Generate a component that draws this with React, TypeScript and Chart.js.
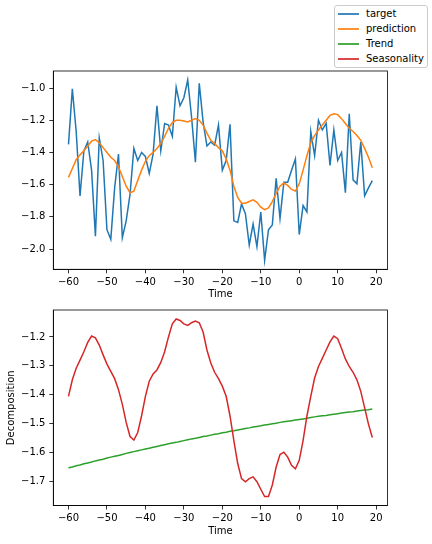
import { useEffect, useRef } from "react"
import { Chart, registerables } from "chart.js"

Chart.register(...registerables)
Chart.defaults.font.family = "'DejaVu Sans', sans-serif"
Chart.defaults.font.size = 10
Chart.defaults.color = "#000"

// time steps -60 .. 19
const time = Array.from({ length: 80 }, (_, i) => i - 60)

const target = [
  -1.35, -1.005, -1.27, -1.67, -1.39, -1.335, -1.51, -1.92, -1.31, -1.45,
  -1.88, -1.94, -1.62, -1.41, -1.93, -1.825, -1.66, -1.375, -1.45, -1.4,
  -1.425, -1.53, -1.41, -1.11, -1.39, -1.22, -1.23, -1.3, -0.995, -1.11,
  -1.06, -0.95, -1.18, -1.46, -0.97, -1.21, -1.36, -1.335, -1.355, -1.23,
  -1.51, -1.45, -1.225, -1.825, -1.835, -1.72, -1.78, -1.975, -1.845, -1.985,
  -1.77, -2.07, -1.88, -1.85, -1.56, -1.81, -1.585, -1.585, -1.51, -1.44,
  -1.91, -1.73, -1.77, -1.27, -1.42, -1.2, -1.26, -1.22, -1.48, -1.26,
  -1.45, -1.4, -1.65, -1.16, -1.57, -1.595, -1.335, -1.67, -1.62, -1.575,
]

const prediction = [
  -1.555, -1.5, -1.445, -1.415, -1.39, -1.36, -1.33, -1.32, -1.34, -1.37,
  -1.4, -1.43, -1.45, -1.49, -1.55, -1.61, -1.65, -1.64, -1.575, -1.51,
  -1.455, -1.42, -1.4, -1.375, -1.345, -1.3, -1.25, -1.215, -1.2, -1.2,
  -1.205, -1.21, -1.2, -1.19, -1.2, -1.23, -1.28, -1.325, -1.345, -1.37,
  -1.39, -1.44, -1.51, -1.61, -1.68, -1.715, -1.715, -1.705, -1.695, -1.71,
  -1.74, -1.755, -1.745, -1.705, -1.655, -1.61, -1.59, -1.605, -1.63, -1.64,
  -1.595, -1.51, -1.42, -1.34, -1.295, -1.26, -1.23, -1.2, -1.17, -1.16,
  -1.165, -1.19, -1.22, -1.25, -1.27, -1.295, -1.325, -1.375, -1.43, -1.495,
]

const trend = [
  -1.652, -1.649, -1.645, -1.642, -1.638, -1.635, -1.632, -1.628, -1.625, -1.622,
  -1.618, -1.615, -1.612, -1.609, -1.606, -1.602, -1.599, -1.596, -1.593, -1.59,
  -1.587, -1.584, -1.581, -1.578, -1.575, -1.572, -1.569, -1.566, -1.564, -1.561,
  -1.558, -1.555, -1.552, -1.55, -1.547, -1.544, -1.542, -1.539, -1.536, -1.534,
  -1.531, -1.529, -1.526, -1.524, -1.521, -1.519, -1.516, -1.514, -1.511, -1.509,
  -1.507, -1.504, -1.502, -1.5, -1.498, -1.495, -1.493, -1.491, -1.489, -1.487,
  -1.485, -1.483, -1.481, -1.478, -1.476, -1.474, -1.472, -1.471, -1.469, -1.467,
  -1.465, -1.463, -1.461, -1.459, -1.458, -1.456, -1.454, -1.452, -1.451, -1.449,
]

const seasonality = [
  -1.405, -1.348, -1.308, -1.28, -1.251, -1.219, -1.197, -1.203, -1.228, -1.262,
  -1.294, -1.319, -1.344, -1.382, -1.433, -1.495, -1.544, -1.556, -1.53, -1.473,
  -1.405, -1.353, -1.328, -1.314, -1.288, -1.251, -1.2, -1.155, -1.138, -1.143,
  -1.155, -1.16, -1.151, -1.145, -1.151, -1.183, -1.245, -1.29, -1.322, -1.344,
  -1.37, -1.405, -1.473, -1.558, -1.637, -1.689, -1.7, -1.689, -1.683, -1.7,
  -1.726, -1.751, -1.751, -1.711, -1.649, -1.606, -1.598, -1.615, -1.643, -1.655,
  -1.626, -1.558, -1.473, -1.405, -1.342, -1.302, -1.274, -1.245, -1.217, -1.197,
  -1.206, -1.24, -1.276, -1.302, -1.322, -1.348, -1.388, -1.444, -1.501, -1.547,
]

const timeTicks = [-60, -50, -40, -30, -20, -10, 0, 10, 20]
const topTicks = [-2.0, -1.8, -1.6, -1.4, -1.2, -1.0]
const bottomTicks = [-1.7, -1.6, -1.5, -1.4, -1.3, -1.2]

const legendItems = [
  { label: "target", color: "#1f77b4" },
  { label: "prediction", color: "#ff7f0e" },
  { label: "Trend", color: "#2ca02c" },
  { label: "Seasonality", color: "#d62728" },
]
const legendRowTops = [2, 17, 32, 47]

const minus = (s: string) => s.replace("-", "\u2212")

const frame = {
  id: "frame",
  afterDraw(chart: any) {
    const { ctx, chartArea: a } = chart
    ctx.save()
    ctx.strokeStyle = "#000"
    ctx.lineWidth = 0.8
    ctx.strokeRect(a.left, a.top, a.right - a.left, a.bottom - a.top)
    ctx.restore()
  },
}

const line = (label: string, values: number[], color: string, order: number) => ({
  label,
  data: values.map((v, i) => ({ x: time[i], y: v })),
  borderColor: color,
  backgroundColor: color,
  borderWidth: 1.5,
  pointRadius: 0,
  tension: 0,
  order,
})

const makeOptions = (
  yMin: number,
  yMax: number,
  yTicks: number[],
  yTitle: string,
  padTop: number,
  xHeight: number,
  timePad: number,
) => ({
  animation: false as const,
  responsive: false,
  layout: { padding: { top: padTop, right: 44.5, left: 0, bottom: 0 } },
  plugins: { legend: { display: false }, tooltip: { enabled: false } },
  scales: {
    x: {
      type: "linear" as const,
      min: -63.95,
      max: 22.95,
      afterBuildTicks: (s: any) => {
        s.ticks = timeTicks.map((v) => ({ value: v }))
      },
      afterFit: (s: any) => {
        s.height = xHeight
      },
      ticks: { padding: 3, maxRotation: 0, callback: (v: any) => minus(String(v)) },
      grid: { drawOnChartArea: false, drawTicks: true, tickLength: 4, color: "#000", lineWidth: 0.8 },
      border: { display: true, color: "#000", width: 0.8 },
      title: { display: true, text: "Time", padding: { top: 0, bottom: timePad } },
    },
    y: {
      min: yMin,
      max: yMax,
      afterBuildTicks: (s: any) => {
        s.ticks = yTicks.map((v) => ({ value: v }))
      },
      afterFit: (s: any) => {
        s.width = 53.3
      },
      ticks: { padding: 4, callback: (v: any) => minus(Number(v).toFixed(1)) },
      grid: { drawOnChartArea: false, drawTicks: true, tickLength: 4, color: "#000", lineWidth: 0.8 },
      border: { display: true, color: "#000", width: 0.8 },
      title: { display: yTitle !== "", text: yTitle, padding: { top: 5, bottom: 0 } },
    },
  },
})

const App = () => {
  const topRef = useRef<HTMLCanvasElement | null>(null)
  const bottomRef = useRef<HTMLCanvasElement | null>(null)

  useEffect(() => {
    if (!topRef.current || !bottomRef.current) return

    const top = new Chart(topRef.current, {
      type: "line",
      data: {
        datasets: [
          line("target", target, "#1f77b4", 1),
          line("prediction", prediction, "#ff7f0e", 0),
        ],
      },
      options: makeOptions(-2.126, -0.894, topTicks, "", 71, 30.7, 0) as any,
      plugins: [frame],
    })

    const bottom = new Chart(bottomRef.current, {
      type: "line",
      data: {
        datasets: [
          line("Trend", trend, "#2ca02c", 1),
          line("Seasonality", seasonality, "#d62728", 0),
        ],
      },
      options: makeOptions(-1.782, -1.107, bottomTicks, "Decomposition", 8.3, 38.5, 6.3) as any,
      plugins: [frame],
    })

    return () => {
      top.destroy()
      bottom.destroy()
    }
  }, [])

  return (
    <div style={{ position: "fixed", left: 0, top: 0, width: 432, height: 544, background: "#fff" }}>
      <canvas ref={topRef} width={432} height={300} style={{ position: "absolute", left: 0, top: 0 }} />
      <canvas ref={bottomRef} width={432} height={244} style={{ position: "absolute", left: 0, top: 300 }} />
      <div
        style={{
          position: "absolute",
          left: 334,
          top: 5,
          width: 92,
          height: 61,
          border: "1px solid #cccccc",
          borderRadius: 3,
          background: "#fff",
          fontFamily: "'DejaVu Sans', sans-serif",
          fontSize: 10,
        }}
      >
        {legendItems.map((item, k) => (
          <div key={item.label} style={{ position: "absolute", left: 0, top: legendRowTops[k], height: 12, width: 92 }}>
            <div
              style={{
                position: "absolute",
                left: 3,
                top: 5,
                width: 21,
                height: 2,
                background: item.color,
                opacity: 0.85,
              }}
            />
            <div style={{ position: "absolute", left: 31, top: 0, lineHeight: "12px", color: "#000", whiteSpace: "nowrap" }}>
              {item.label}
            </div>
          </div>
        ))}
      </div>
    </div>
  )
}

export default App
